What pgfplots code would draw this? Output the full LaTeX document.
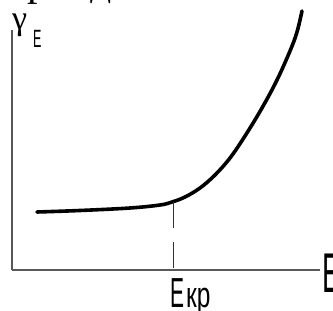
\documentclass[border=0pt]{standalone}
\usepackage{fontspec}
\setmainfont{Liberation Sans}
\newfontfamily\serif{Liberation Serif}
\usepackage{pgfplots}
\pgfplotsset{compat=1.18}
\begin{document}
\begin{tikzpicture}[x=1pt,y=1pt]
\begin{axis}[
  at={(12pt,41pt)}, anchor=south west,
  width=308pt, height=240pt, scale only axis,
  xmin=0, xmax=308, ymin=0, ymax=240,
  axis lines=left,
  axis line style={-, draw=black!65, line width=1.3pt},
  xtick=\empty, ytick=\empty,
  clip=false,
]
\addplot[black, line width=3.6pt, smooth, tension=0.6, line cap=round] coordinates {
(25,58) (68,59.5) (118,62) (148,65) (160,68) (173,73) (188,82) (203,95)
(218,112) (233,134) (250,162) (265,190) (278,219) (285,238) (290,259)
};
\addplot[black!80, line width=1pt, dash pattern=on 26pt off 14pt] coordinates {(161,68) (161,0)};
\end{axis}
\node[anchor=base west, inner sep=0pt] at (-14,315) {\serif\fontsize{42}{42}\selectfont период};
\node[anchor=base west, inner sep=0pt] at (12,281) {\serif\fontsize{34}{34}\selectfont γ};
\node[anchor=base west, inner sep=0pt] at (33,263) {\scalebox{0.5}[1]{\fontsize{25}{25}\selectfont E}};
\node[anchor=base west, inner sep=0pt] at (170,3) {\scalebox{0.5}[1]{\fontsize{42}{42}\selectfont Е}\hspace{2pt}\scalebox{0.68}[1]{\fontsize{36}{36}\selectfont кр}};
\node[anchor=base west, inner sep=0pt] at (322,18) {\scalebox{0.5}[1]{\fontsize{56}{56}\selectfont E}};
\pgfresetboundingbox
\path[use as bounding box] (0,0) rectangle (333,311);
\end{tikzpicture}
\end{document}
